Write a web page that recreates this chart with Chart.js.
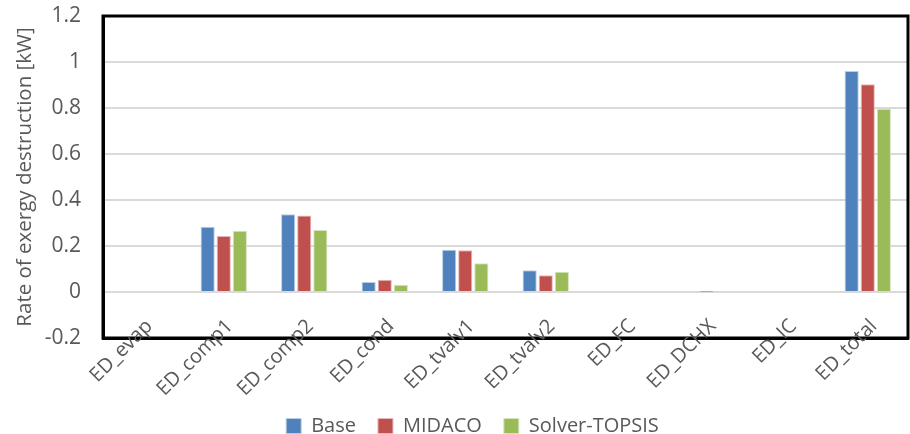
<!DOCTYPE html>
<html>
<head>
<meta charset="utf-8">
<script src="https://cdn.jsdelivr.net/npm/chart.js@4.4.1/dist/chart.umd.min.js"></script>
<style>
  html, body { margin: 0; padding: 0; background: #fff; }
  #wrap { width: 910px; height: 434px; }
</style>
</head>
<body>
<div id="wrap"><canvas id="miGrafica"></canvas></div>
<script>
// categorias y valores
var categorias = ["ED_evap", "ED_comp1", "ED_comp2", "ED_cond", "ED_tvalv1", "ED_tvalv2", "ED_FC", "ED_DCHX", "ED_IC", "ED_total"];
var base = [0, 0.284, 0.338, 0.044, 0.184, 0.095, 0, 0, 0, 0.961];
var midaco = [0, 0.244, 0.333, 0.053, 0.182, 0.073, 0, 0.001, 0, 0.903];
var solverTopsis = [0, 0.266, 0.270, 0.031, 0.125, 0.088, 0, 0, 0, 0.797];
var yTicks = [-0.2, 0, 0.2, 0.4, 0.6, 0.8, 1, 1.2];

var gris = "#595959";

var marco = { // marco negro, etiquetas del eje x giradas y leyenda un poco mas abajo
  id: "marco",
  afterLayout: function (chart) {
    chart.legend.top += 12;
    chart.legend.bottom += 12;
    chart.legend.left += 12; // centrada bajo el area del grafico
    chart.legend.right += 12;
  },
  afterDatasetsDraw: function (chart) {
    var a = chart.chartArea;
    var ctx = chart.ctx;
    var x = chart.scales.x;
    ctx.save();
    ctx.strokeStyle = "#000000";
    ctx.lineWidth = 3;
    ctx.beginPath();
    ctx.rect(a.left, a.top, a.right - a.left, a.bottom - a.top);
    ctx.stroke();
    // etiquetas: en Excel se meten un poco dentro del area del grafico
    ctx.fillStyle = gris;
    ctx.font = "20px 'Open Sans'";
    ctx.textAlign = "right";
    ctx.textBaseline = "top";
    x.ticks.forEach(function (t, i) {
      ctx.save();
      ctx.translate(x.getPixelForTick(i) - 1, a.bottom - 22);
      ctx.rotate(-Math.PI / 4);
      ctx.fillText(t.label, 0, 0);
      ctx.restore();
    });
    ctx.restore();
  }
};

new Chart("miGrafica", {
  type: "bar",
  data: {
    labels: categorias,
    datasets: [
      { label: "Base", data: base, backgroundColor: "#4F81BD", borderColor: "#B9CDE5", borderWidth: 1 },
      { label: "MIDACO", data: midaco, backgroundColor: "#C0504D", borderColor: "#E6B9B8", borderWidth: 1 },
      { label: "Solver-TOPSIS", data: solverTopsis, backgroundColor: "#9BBB59", borderColor: "#D7E4BD", borderWidth: 1 }
    ]
  },
  options: {
    responsive: true,
    maintainAspectRatio: false,
    animation: false,
    datasets: { bar: { categoryPercentage: 0.6, barPercentage: 0.88 } },
    layout: { padding: { top: 16, right: 2, left: 13, bottom: 0 } },
    plugins: {
      legend: {
        position: "bottom",
        labels: {
          color: gris,
          font: { family: "Open Sans", size: 20 },
          boxWidth: 15,
          boxHeight: 15,
          padding: 22
        }
      },
      tooltip: { enabled: false }
    },
    scales: {
      x: {
        grid: { display: false },
        border: { display: true, color: "#000", width: 3 },
        afterFit: function (scale) { scale.height = 44; },
        ticks: {
          color: "rgba(0,0,0,0)", // las dibuja el plugin
          font: { family: "Open Sans", size: 18 },
          maxRotation: 45,
          minRotation: 45
        }
      },
      y: {
        min: -0.2,
        max: 1.2,
        afterBuildTicks: function (scale) {
          scale.ticks = yTicks.map(function (v) { return { value: v }; });
        },
        afterFit: function (scale) {
          scale.width = 90;
          scale.paddingTop = 0;
          scale.paddingBottom = 0;
        },
        grid: { color: "#D9D9D9", lineWidth: 2, drawTicks: false },
        border: { display: true, color: "#000", width: 3 },
        ticks: {
          color: gris,
          font: { family: "Open Sans", size: 21 },
          padding: 22,
          callback: function (v) { return String(Number(v.toFixed(1))); }
        },
        title: {
          display: true,
          text: "Rate of exergy destruction [kW]",
          color: gris,
          font: { family: "Open Sans", size: 20.5 },
          padding: { top: 0, bottom: 2 }
        }
      }
    }
  },
  plugins: [marco]
});
</script>
</body>
</html>
